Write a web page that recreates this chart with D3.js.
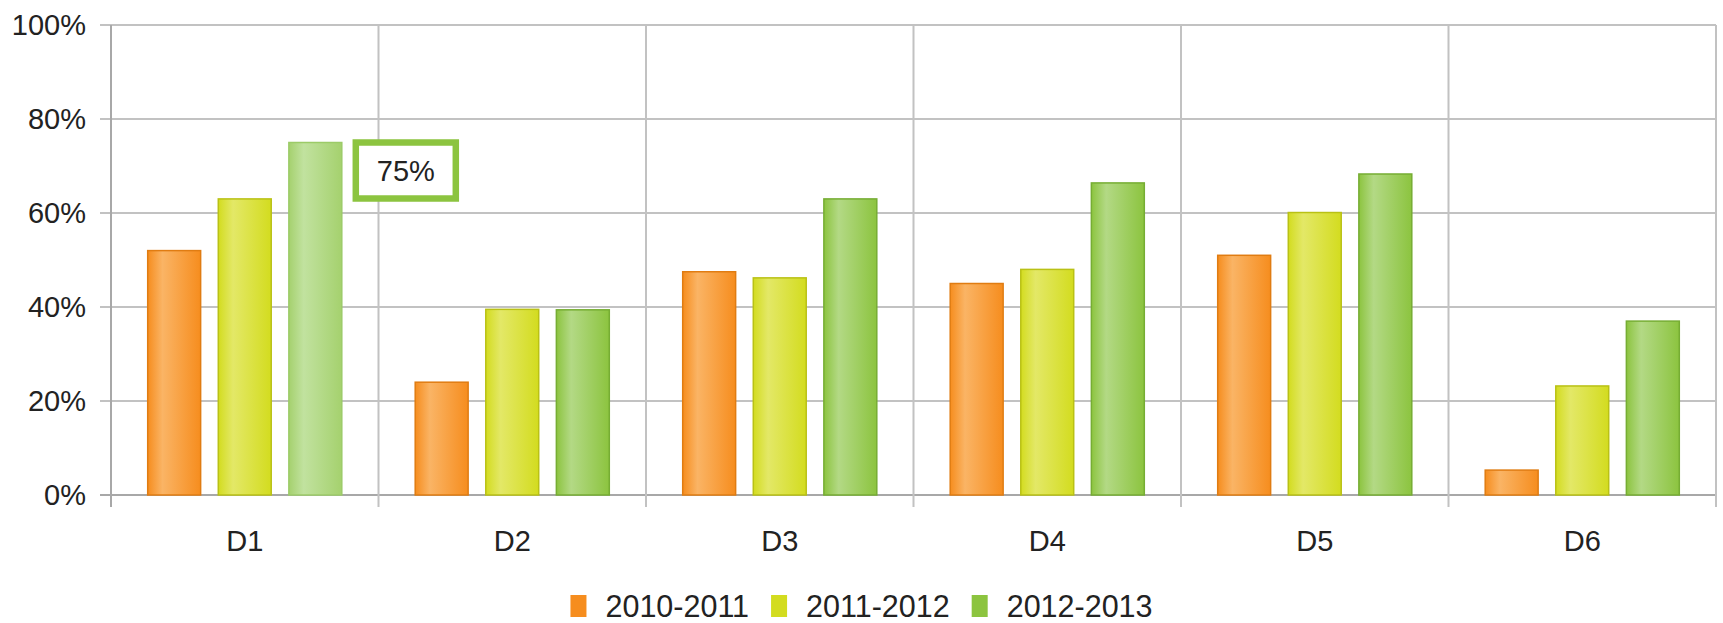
<!DOCTYPE html>
<html>
<head>
<meta charset="utf-8">
<script src="https://cdn.jsdelivr.net/npm/d3@7"></script>
<style>
  html, body { margin: 0; padding: 0; background: #fff; }
  svg { display: block; font-family: "Liberation Sans", Arial, sans-serif; }
  .tick-label { font-size: 29px; fill: #222; }
  .legend-label { font-size: 30.5px; fill: #222; }
</style>
</head>
<body>
<div id="chart"></div>
<script>
// Chart data
const categories = ['D1', 'D2', 'D3', 'D4', 'D5', 'D6'];
const seriesNames = ['2010-2011', '2011-2012', '2012-2013'];
const values2010 = [52, 24, 47.5, 45, 51, 5.3];
const values2011 = [63, 39.5, 46.2, 48, 60.1, 23.2];
const values2012 = [75, 39.4, 63, 66.4, 68.3, 37];
const yTicks = [0, 20, 40, 60, 80, 100];
const highlight = { category: 'D1', series: 2, label: '75%' };

const seriesValues = [values2010, values2011, values2012];

// Colours per series: base, light highlight, stroke
const palette = [
  { base: '#f68d1e', light: '#fab465', stroke: '#e07c12' },
  { base: '#d3dc1f', light: '#e3e867', stroke: '#b9c115' },
  { base: '#8cc43f', light: '#b3d985', stroke: '#76ad33' }
];

const width = 1723;
const height = 623;
const margin = { top: 25, right: 7, bottom: 128, left: 111 };
const plotW = width - margin.left - margin.right;
const plotH = height - margin.top - margin.bottom;

const svg = d3.select('#chart').append('svg')
  .attr('width', width)
  .attr('height', height);

const defs = svg.append('defs');

function addGradient(id, c) {
  const g = defs.append('linearGradient')
    .attr('id', id)
    .attr('x1', '0%').attr('x2', '100%')
    .attr('y1', '0%').attr('y2', '0%');
  g.append('stop').attr('offset', '0%').attr('stop-color', c.base);
  g.append('stop').attr('offset', '28%').attr('stop-color', c.light);
  g.append('stop').attr('offset', '100%').attr('stop-color', c.base);
}
palette.forEach((c, i) => addGradient(`grad${i}`, c));
addGradient('gradHi', { base: '#a5d16e', light: '#c1e29f' });

const x0 = d3.scaleBand()
  .domain(categories)
  .range([0, plotW]);

const x1 = d3.scaleBand()
  .domain(d3.range(seriesNames.length))
  .range([0, x0.bandwidth()])
  .paddingInner(0.25)
  .paddingOuter(0.52);

const y = d3.scaleLinear()
  .domain([0, 100])
  .range([plotH, 0]);

const g = svg.append('g')
  .attr('transform', `translate(${margin.left},${margin.top})`);

// Horizontal grid lines
g.selectAll('line.hgrid')
  .data(yTicks)
  .enter().append('line')
  .attr('class', 'hgrid')
  .attr('x1', -11)
  .attr('x2', plotW)
  .attr('y1', d => y(d))
  .attr('y2', d => y(d))
  .attr('stroke', d => (d === 0 ? '#a8a8a8' : '#c2c2c2'))
  .attr('stroke-width', 2);

// Vertical grid lines (category boundaries)
const bounds = categories.map(c => x0(c)).concat([plotW]);
g.selectAll('line.vgrid')
  .data(bounds)
  .enter().append('line')
  .attr('class', 'vgrid')
  .attr('x1', d => d)
  .attr('x2', d => d)
  .attr('y1', 0)
  .attr('y2', plotH + 12)
  .attr('stroke', (d, i) => (i === 0 ? '#a8a8a8' : '#c2c2c2'))
  .attr('stroke-width', 2);

// Y tick labels
g.selectAll('text.ylab')
  .data(yTicks)
  .enter().append('text')
  .attr('class', 'tick-label')
  .attr('x', -25)
  .attr('y', d => y(d))
  .attr('dy', '0.36em')
  .attr('text-anchor', 'end')
  .text(d => `${d}%`);

// X labels
g.selectAll('text.xlab')
  .data(categories)
  .enter().append('text')
  .attr('class', 'tick-label')
  .attr('x', d => x0(d) + x0.bandwidth() / 2)
  .attr('y', plotH + 56)
  .attr('text-anchor', 'middle')
  .text(d => d);

// Bars
const groups = g.selectAll('g.cat')
  .data(categories)
  .enter().append('g')
  .attr('class', 'cat')
  .attr('transform', d => `translate(${x0(d)},0)`);

groups.selectAll('rect')
  .data((c, ci) => seriesValues.map((vals, si) => ({ c, si, v: vals[ci] })))
  .enter().append('rect')
  .attr('x', d => x1(d.si))
  .attr('y', d => y(d.v))
  .attr('width', x1.bandwidth())
  .attr('height', d => plotH - y(d.v))
  .attr('fill', d => (d.c === highlight.category && d.si === highlight.series ? 'url(#gradHi)' : `url(#grad${d.si})`))
  .attr('stroke', d => (d.c === highlight.category && d.si === highlight.series ? '#9ccb68' : palette[d.si].stroke))
  .attr('stroke-width', 1.5);

// Tooltip-style value label
const hiIdx = categories.indexOf(highlight.category);
const hiVal = seriesValues[highlight.series][hiIdx];
const bx = x0(highlight.category) + x1(highlight.series) + x1.bandwidth() + 14;
const by = y(hiVal);
const tip = g.append('g').attr('transform', `translate(${bx},${by})`);
tip.append('rect')
  .attr('x', 0)
  .attr('y', 0)
  .attr('width', 100)
  .attr('height', 56)
  .attr('fill', '#fff')
  .attr('stroke', '#8cc43f')
  .attr('stroke-width', 6.5);
tip.append('text')
  .attr('class', 'tick-label')
  .attr('x', 50)
  .attr('y', 28)
  .attr('dy', '0.36em')
  .attr('text-anchor', 'middle')
  .text(highlight.label);

// Legend
const legend = svg.append('g').attr('class', 'legend');
const items = legend.selectAll('g.item')
  .data(seriesNames)
  .enter().append('g')
  .attr('class', 'item');

items.append('rect')
  .attr('width', 16)
  .attr('height', 22)
  .attr('y', -22)
  .attr('fill', (d, i) => palette[i].base);

items.append('text')
  .attr('class', 'legend-label')
  .attr('x', 35)
  .attr('y', 0)
  .text(d => d);

// lay out legend items horizontally, centered
let offset = 0;
const itemGap = 22;
items.each(function () {
  const w = this.getBBox().width;
  d3.select(this).attr('data-x', offset);
  offset += w + itemGap;
});
const totalW = offset - itemGap;
const startX = (width - totalW) / 2;
items.attr('transform', function () {
  return `translate(${startX + +d3.select(this).attr('data-x')},617)`;
});
</script>
</body>
</html>
